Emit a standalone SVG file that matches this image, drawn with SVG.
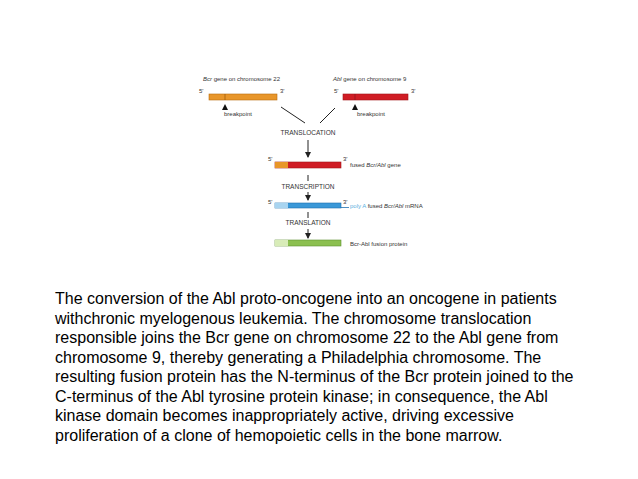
<svg xmlns="http://www.w3.org/2000/svg" width="638" height="479" viewBox="0 0 638 479">
<style>
.lbl{font-family:"Liberation Sans",Arial,sans-serif;font-size:6px;fill:#333}
.cap{font-family:"Liberation Sans",Arial,sans-serif;font-size:6.5px;fill:#333}
.body{font-family:"Liberation Sans",Arial,sans-serif;font-size:16px;fill:#000}
.ln{stroke:#222;stroke-width:1;fill:none}
</style>
<defs>
<marker id="ah" markerWidth="6" markerHeight="6" refX="5" refY="3" orient="auto" markerUnits="userSpaceOnUse">
<path d="M0,0 L6,3 L0,6 z" fill="#222"/>
</marker>
</defs>
<rect width="638" height="479" fill="#fff"/>
<g id="bcr">
<text class="lbl" x="203" y="81"><tspan font-style="italic">Bcr</tspan> gene on chromosome 22</text>
<text class="lbl" x="199" y="93">5'</text>
<rect x="209" y="94" width="68" height="6" fill="#e8962a" stroke="#b86d10" stroke-width="0.6"/>
<line x1="225" y1="94" x2="225" y2="100" stroke="#8a4c00" stroke-width="0.6"/>
<text class="lbl" x="280" y="93">3'</text>
<path d="M222,110 L225,104 L228,110 z" fill="#111"/>
<text class="lbl" x="224" y="116">breakpoint</text>
</g>
<g id="abl">
<text class="lbl" x="333" y="81"><tspan font-style="italic">Abl</tspan> gene on chromosome 9</text>
<text class="lbl" x="334" y="93">5'</text>
<rect x="343" y="94" width="65" height="6" fill="#d01c24" stroke="#a0141a" stroke-width="0.6"/>
<line x1="355" y1="94" x2="355" y2="100" stroke="#80101a" stroke-width="0.6"/>
<text class="lbl" x="411" y="93">3'</text>
<path d="M352,110 L355,104 L358,110 z" fill="#111"/>
<text class="lbl" x="357" y="116">breakpoint</text>
</g>
<g id="fused-gene">
<text class="cap" x="308" y="135" text-anchor="middle">TRANSLOCATION</text>
<text class="lbl" x="268" y="161">5'</text>
<rect x="275" y="162" width="66" height="6" fill="#d01c24" stroke="#a0141a" stroke-width="0.6"/>
<rect x="275" y="162" width="13" height="6" fill="#e8962a"/>
<text class="lbl" x="343" y="161">3'</text>
<text class="lbl" x="350" y="167">fused <tspan font-style="italic">Bcr/Abl</tspan> gene</text>
</g>
<g id="mrna">
<text class="cap" x="308" y="189" text-anchor="middle">TRANSCRIPTION</text>
<text class="lbl" x="268" y="204">5'</text>
<rect x="275" y="203" width="66" height="5" fill="#3a98d8" stroke="#1f70b0" stroke-width="0.6"/>
<rect x="275" y="203" width="13" height="5" fill="#a8d4f0"/>
<line x1="341" y1="207.5" x2="349" y2="207.5" stroke="#1f70b0" stroke-width="0.8"/>
<text class="lbl" x="343" y="204">3'</text>
<text class="lbl" x="350" y="208"><tspan fill="#5ab0e0">poly A</tspan> fused <tspan font-style="italic">Bcr/Abl</tspan> mRNA</text>
</g>
<g id="protein">
<text class="cap" x="308" y="225" text-anchor="middle">TRANSLATION</text>
<rect x="275" y="240" width="66" height="6" fill="#8cc050" stroke="#5e9030" stroke-width="0.6"/>
<rect x="275" y="240" width="13" height="6" fill="#d8ecb8"/>
<text class="lbl" x="350" y="246">Bcr-Abl fusion protein</text>
</g>
<g id="connectors">
<line class="ln" x1="281" y1="107" x2="305" y2="123"/>
<line class="ln" x1="335" y1="108" x2="320" y2="123"/>
<line class="ln" x1="308" y1="140" x2="308" y2="157" marker-end="url(#ah)"/>
<line class="ln" x1="308" y1="175" x2="308" y2="181"/>
<line class="ln" x1="308" y1="192" x2="308" y2="200" marker-end="url(#ah)"/>
<line class="ln" x1="308" y1="212" x2="308" y2="218"/>
<line class="ln" x1="308" y1="229" x2="308" y2="238" marker-end="url(#ah)"/>
</g>
<g id="caption">
<text class="body" x="55" y="304">The conversion of the Abl proto-oncogene into an oncogene in patients</text>
<text class="body" x="55" y="323.5">withchronic myelogenous leukemia. The chromosome translocation</text>
<text class="body" x="55" y="343">responsible joins the Bcr gene on chromosome 22 to the Abl gene from</text>
<text class="body" x="55" y="362.5">chromosome 9, thereby generating a Philadelphia chromosome. The</text>
<text class="body" x="55" y="382">resulting fusion protein has the N-terminus of the Bcr protein joined to the</text>
<text class="body" x="55" y="401.5">C-terminus of the Abl tyrosine protein kinase; in consequence, the Abl</text>
<text class="body" x="55" y="421">kinase domain becomes inappropriately active, driving excessive</text>
<text class="body" x="55" y="440.5">proliferation of a clone of hemopoietic cells in the bone marrow.</text>
</g>
</svg>
